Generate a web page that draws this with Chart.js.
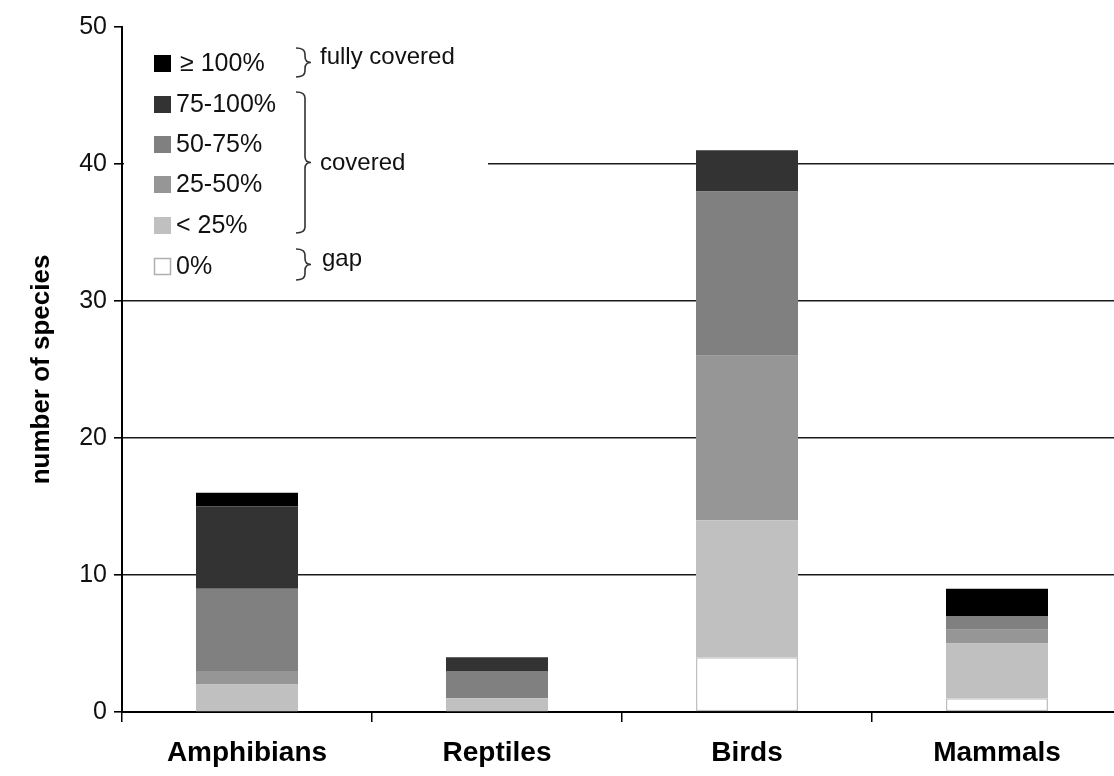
<!DOCTYPE html>
<html>
<head>
<meta charset="utf-8">
<script src="https://cdn.jsdelivr.net/npm/chart.js@4/dist/chart.umd.min.js"></script>
<style>
  html, body { margin: 0; padding: 0; background: #fff; overflow: hidden; }
  canvas { display: block; }
</style>
</head>
<body>
<canvas id="chart" width="1124" height="776"></canvas>
<script>
const categories = ['Amphibians', 'Reptiles', 'Birds', 'Mammals'];

// stacked from bottom to top
const gap0     = [0, 0, 4, 1];
const below25  = [2, 1, 10, 4];
const pct25_50 = [1, 0, 12, 1];
const pct50_75 = [6, 2, 12, 1];
const pct75_100 = [6, 1, 3, 0];
const full100  = [1, 0, 0, 2];

const seriesLabels = ['0%', '< 25%', '25-50%', '50-75%', '75-100%', '\u2265 100%'];
const seriesColors = ['#ffffff', '#c0c0c0', '#969696', '#808080', '#333333', '#000000'];
const seriesData = [gap0, below25, pct25_50, pct50_75, pct75_100, full100];

const yTicks = [0, 10, 20, 30, 40, 50];

const FONT = '"Liberation Sans", Arial, sans-serif';

// legend with braces, drawn on top of the plot
const braceLegend = {
  id: 'braceLegend',
  afterDraw(chart) {
    const ctx = chart.ctx;
    const area = chart.chartArea;
    ctx.save();
    ctx.fillStyle = '#fff';
    ctx.fillRect(area.left + 2, 35, 488 - area.left - 2, 255);

    // top-to-bottom order
    const order = [5, 4, 3, 2, 1, 0];
    const rowY = [63, 104, 144, 184, 225, 266];
    ctx.font = '25px ' + FONT;
    ctx.textBaseline = 'middle';
    order.forEach((idx, i) => {
      const y = rowY[i];
      ctx.fillStyle = seriesColors[idx];
      ctx.fillRect(154, y - 8, 17, 17);
      if (idx === 0) {
        ctx.strokeStyle = '#b0b0b0';
        ctx.lineWidth = 1.5;
        ctx.strokeRect(154.5, y - 7.5, 16, 16);
      }
      ctx.fillStyle = '#111';
      ctx.fillText(seriesLabels[idx], idx === 5 ? 180 : 176, y + 1);
    });

    function brace(x, y0, y1, w) {
      const mid = (y0 + y1) / 2;
      ctx.beginPath();
      ctx.moveTo(x, y0);
      ctx.quadraticCurveTo(x + w * 0.6, y0, x + w * 0.6, y0 + 6);
      ctx.lineTo(x + w * 0.6, mid - 6);
      ctx.quadraticCurveTo(x + w * 0.6, mid, x + w, mid);
      ctx.quadraticCurveTo(x + w * 0.6, mid, x + w * 0.6, mid + 6);
      ctx.lineTo(x + w * 0.6, y1 - 6);
      ctx.quadraticCurveTo(x + w * 0.6, y1, x, y1);
      ctx.stroke();
    }
    ctx.strokeStyle = '#333';
    ctx.lineWidth = 1.6;
    brace(296, 48, 77, 15);
    brace(296, 92, 233, 15);
    brace(296, 249, 280, 15);

    ctx.fillStyle = '#111';
    ctx.font = '24px ' + FONT;
    ctx.fillText('fully covered', 320, 57);
    ctx.fillText('covered', 320, 163);
    ctx.fillText('gap', 322, 259);
    ctx.restore();
  }
};

new Chart(document.getElementById('chart').getContext('2d'), {
  type: 'bar',
  data: {
    labels: categories,
    datasets: seriesData.map((d, i) => ({
      label: seriesLabels[i],
      data: d,
      backgroundColor: seriesColors[i],
      borderColor: i === 0 ? '#c0c0c0' : seriesColors[i],
      borderWidth: i === 0 ? 1.5 : 0,
      borderSkipped: false,
      barPercentage: 1,
      categoryPercentage: 0.408
    }))
  },
  options: {
    responsive: false,
    animation: false,
    devicePixelRatio: 1,
    layout: { padding: { top: 27, right: 2, left: 0, bottom: 0 } },
    plugins: {
      legend: { display: false },
      tooltip: { enabled: false }
    },
    scales: {
      x: {
        stacked: true,
        grid: {
          offset: true,
          drawOnChartArea: false,
          color: '#000',
          tickLength: 10,
          lineWidth: 1.5
        },
        border: { color: '#000', width: 2 },
        ticks: {
          color: '#000',
          padding: 14,
          font: { family: FONT, size: 28, weight: 'bold' }
        },
        afterFit(scale) { scale.height = 64; }
      },
      y: {
        stacked: true,
        min: 0,
        max: 50,
        afterBuildTicks(scale) { scale.ticks = yTicks.map(v => ({ value: v })); },
        grid: {
          color: ctx => (ctx.tick && (ctx.tick.value === 50 || ctx.tick.value === 0)) ? 'rgba(0,0,0,0)' : '#1a1a1a',
          tickColor: '#000',
          lineWidth: 1.6,
          tickLength: 8
        },
        border: { color: '#000', width: 2 },
        ticks: {
          color: '#111',
          padding: 7,
          font: { family: FONT, size: 25 }
        },
        title: {
          display: true,
          text: 'number of species',
          color: '#000',
          padding: { top: 26, bottom: 0 },
          font: { family: FONT, size: 26, weight: 'bold' }
        },
        afterFit(scale) { scale.width = 122; }
      }
    }
  },
  plugins: [braceLegend]
});
</script>
</body>
</html>
